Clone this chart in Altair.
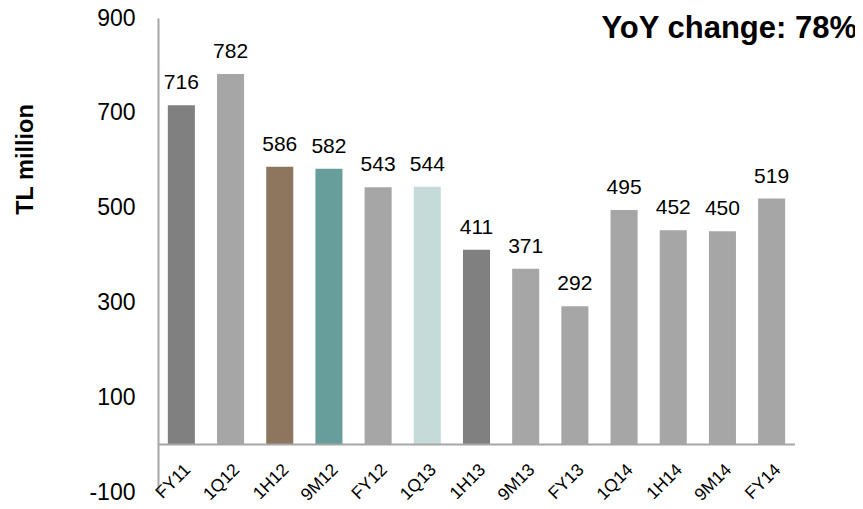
import altair as alt
import pandas as pd

periods = ["FY11", "1Q12", "1H12", "9M12", "FY12", "1Q13", "1H13",
           "9M13", "FY13", "1Q14", "1H14", "9M14", "FY14"]
values = [716, 782, 586, 582, 543, 544, 411, 371, 292, 495, 452, 450, 519]
colors = ["#808080", "#a6a6a6", "#8c775e", "#679e9b", "#a6a6a6", "#c5dbd9",
          "#808080", "#a6a6a6", "#a6a6a6", "#a6a6a6", "#a6a6a6", "#a6a6a6", "#a6a6a6"]
y_ticks = [-100, 100, 300, 500, 700, 900]
zero_line = [0]
axis_floor = -100

df = pd.DataFrame({"period": periods, "value": values, "color": colors,
                   "floor": [axis_floor] * len(periods)})
zdf = pd.DataFrame({"z": zero_line})

FONT = "Liberation Sans"

x_enc = alt.X(
    "period:N", sort=periods,
    scale=alt.Scale(paddingInner=0.45, paddingOuter=0.2),
    axis=None,
)
y_scale = alt.Scale(domain=[-100, 900], nice=False, zero=False)
y_axis = alt.Axis(values=y_ticks, title="TL million", grid=False, ticks=False,
                  domainColor="#a6a6a6", domainWidth=2,
                  labelExpr="datum.value < 0 ? '-' + abs(datum.value) : '' + datum.value",
                  labelFontSize=23, labelFont=FONT, labelColor="#000000",
                  labelPadding=23,
                  titleFont=FONT, titleFontSize=23.5, titleFontWeight="bold",
                  titleColor="#000000", titleAngle=-90,
                  titleBaseline="alphabetic", titleX=-126, titleY=141)

base = alt.Chart(df).encode(x=x_enc)

bars = base.mark_bar().encode(
    y=alt.Y("value:Q", scale=y_scale, axis=y_axis),
    y2=alt.datum(0),
    color=alt.Color("color:N", scale=None, legend=None),
)

labels = base.mark_text(
    fontSize=21, font=FONT, color="#000000", baseline="alphabetic", dy=-16
).encode(
    y=alt.Y("value:Q", scale=y_scale, axis=y_axis),
    text=alt.Text("value:Q", format="d"),
)

cat_labels = base.mark_text(
    fontSize=17.5, font=FONT, color="#000000", align="right", baseline="top",
    angle=315, dx=22, dy=-22,
).encode(
    y=alt.Y("floor:Q", scale=y_scale, axis=y_axis),
    text="period:N",
)

zero = alt.Chart(zdf).mark_rule(color="#a6a6a6", strokeWidth=2).encode(
    y=alt.Y("z:Q", scale=y_scale, axis=y_axis),
)

chart = alt.layer(bars, labels, cat_labels, zero).properties(
    width=637,
    height=474,
    padding={"left": 150, "top": 10, "right": 60, "bottom": 9},
    autosize=alt.AutoSizeParams(type="none"),
    title=alt.TitleParams(
        "YoY change: 78%", anchor="end", frame="group", orient="top",
        font=FONT, fontSize=31, fontWeight="bold", color="#000000",
        baseline="alphabetic", dx=62, dy=66,
    ),
).configure_view(stroke=None)

chart.save("out.html", embed_options={"renderer": "svg", "actions": False})
